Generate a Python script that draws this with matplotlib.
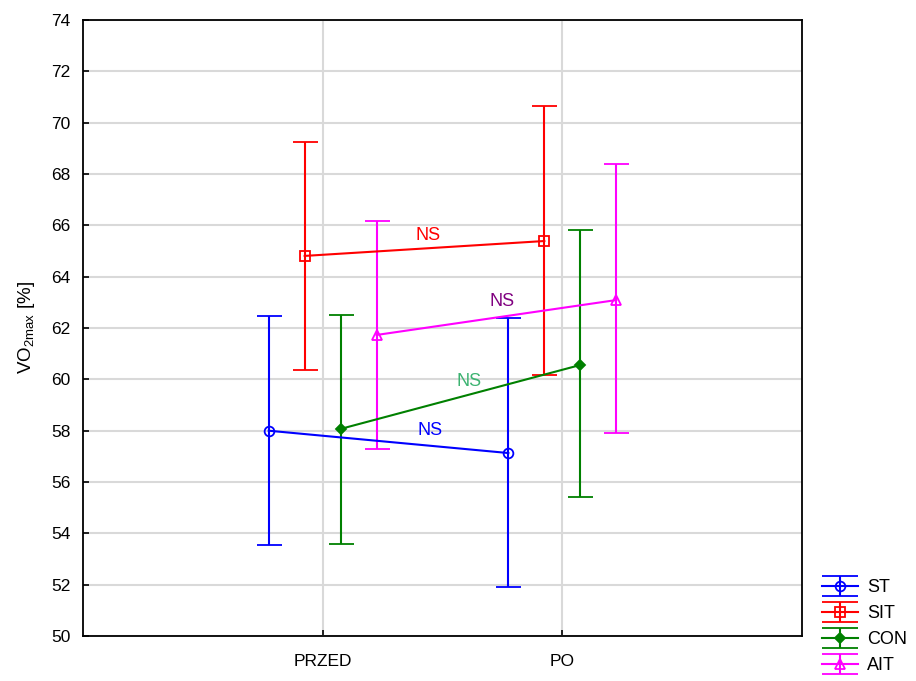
import matplotlib
matplotlib.use('Agg')
import matplotlib.pyplot as plt
from matplotlib.legend_handler import HandlerErrorbar
from matplotlib.lines import Line2D
import numpy as np

plt.rcParams['font.family'] = ['Liberation Sans', 'DejaVu Sans']

# categories and groups
periods = ['PRZED', 'PO']
groups = ['ST', 'SIT', 'CON', 'AIT']
colors = ['#0000ff', '#ff0000', '#008000', '#ff00ff']
markers = ['o', 's', 'D', '^']
offsets = [-0.225, -0.075, 0.075, 0.225]

# means and error bar limits (PRZED, PO)
st_mean = [58.0, 57.13]
st_low = [53.55, 51.91]
st_high = [62.45, 62.39]

sit_mean = [64.81, 65.39]
sit_low = [60.37, 60.17]
sit_high = [69.25, 70.65]

con_mean = [58.07, 60.56]
con_low = [53.59, 55.42]
con_high = [62.51, 65.82]

ait_mean = [61.73, 63.09]
ait_low = [57.29, 57.91]
ait_high = [66.17, 68.39]

means = [st_mean, sit_mean, con_mean, ait_mean]
lows = [st_low, sit_low, con_low, ait_low]
highs = [st_high, sit_high, con_high, ait_high]

# NS annotations: (x, y, colour)
ns_x = [0.44, 0.75, 0.61, 0.45]
ns_y = [65.6, 63.05, 59.9, 58.0]
ns_colors = ['#ff0000', '#800080', '#3cb371', '#0000ff']


class WideCapHandler(HandlerErrorbar):
    # legend caps span the whole handle, like in the original
    def create_artists(self, *args, **kwargs):
        arts = super().create_artists(*args, **kwargs)
        for a in arts:
            if isinstance(a, Line2D) and a.get_marker() == '_':
                a.set_markersize(26)
        return arts


fig = plt.figure(figsize=(9.16, 6.81), dpi=100)
ax = fig.add_axes([0.0906, 0.066, 0.7849, 0.9046])

x = np.arange(len(periods))
for i, g in enumerate(groups):
    m = np.array(means[i])
    lo = m - np.array(lows[i])
    hi = np.array(highs[i]) - m
    ax.errorbar(x + offsets[i], m, yerr=[lo, hi], color=colors[i],
                marker=markers[i], markersize=7 if markers[i] != 'D' else 5.5,
                markerfacecolor='none' if markers[i] != 'D' else colors[i],
                markeredgewidth=1.3, linewidth=1.5, capsize=9, capthick=1.5,
                label=g, zorder=3)

for tx, ty, c in zip(ns_x, ns_y, ns_colors):
    ax.text(tx, ty, 'NS', color=c, fontsize=13, ha='center', va='center')

ax.set_xlim(-1, 2)
ax.set_ylim(50, 74)
ax.set_xticks(x)
ax.set_xticklabels(periods)
ax.set_yticks(np.arange(50, 75, 2))
ax.tick_params(direction='in', labelsize=12.5, length=4, width=1.2)
ax.tick_params(axis='y', pad=9)
ax.tick_params(axis='x', pad=13)
ax.grid(True, color='#d9d9d9', linewidth=1.5, zorder=0)
ax.set_axisbelow(True)
for s in ax.spines.values():
    s.set_linewidth(1.3)

ax.set_ylabel(r'VO$_{\mathregular{2max}}$ [%]', fontsize=13.5, labelpad=10)

ax.legend(loc='lower left', bbox_to_anchor=(1.028, -0.062), frameon=False,
          fontsize=13, handlelength=2.0, borderaxespad=0, borderpad=0,
          handletextpad=0.5, labelspacing=0.5,
          handler_map={matplotlib.container.ErrorbarContainer: WideCapHandler(yerr_size=0.55)})

fig.savefig('out.png', dpi=100)
